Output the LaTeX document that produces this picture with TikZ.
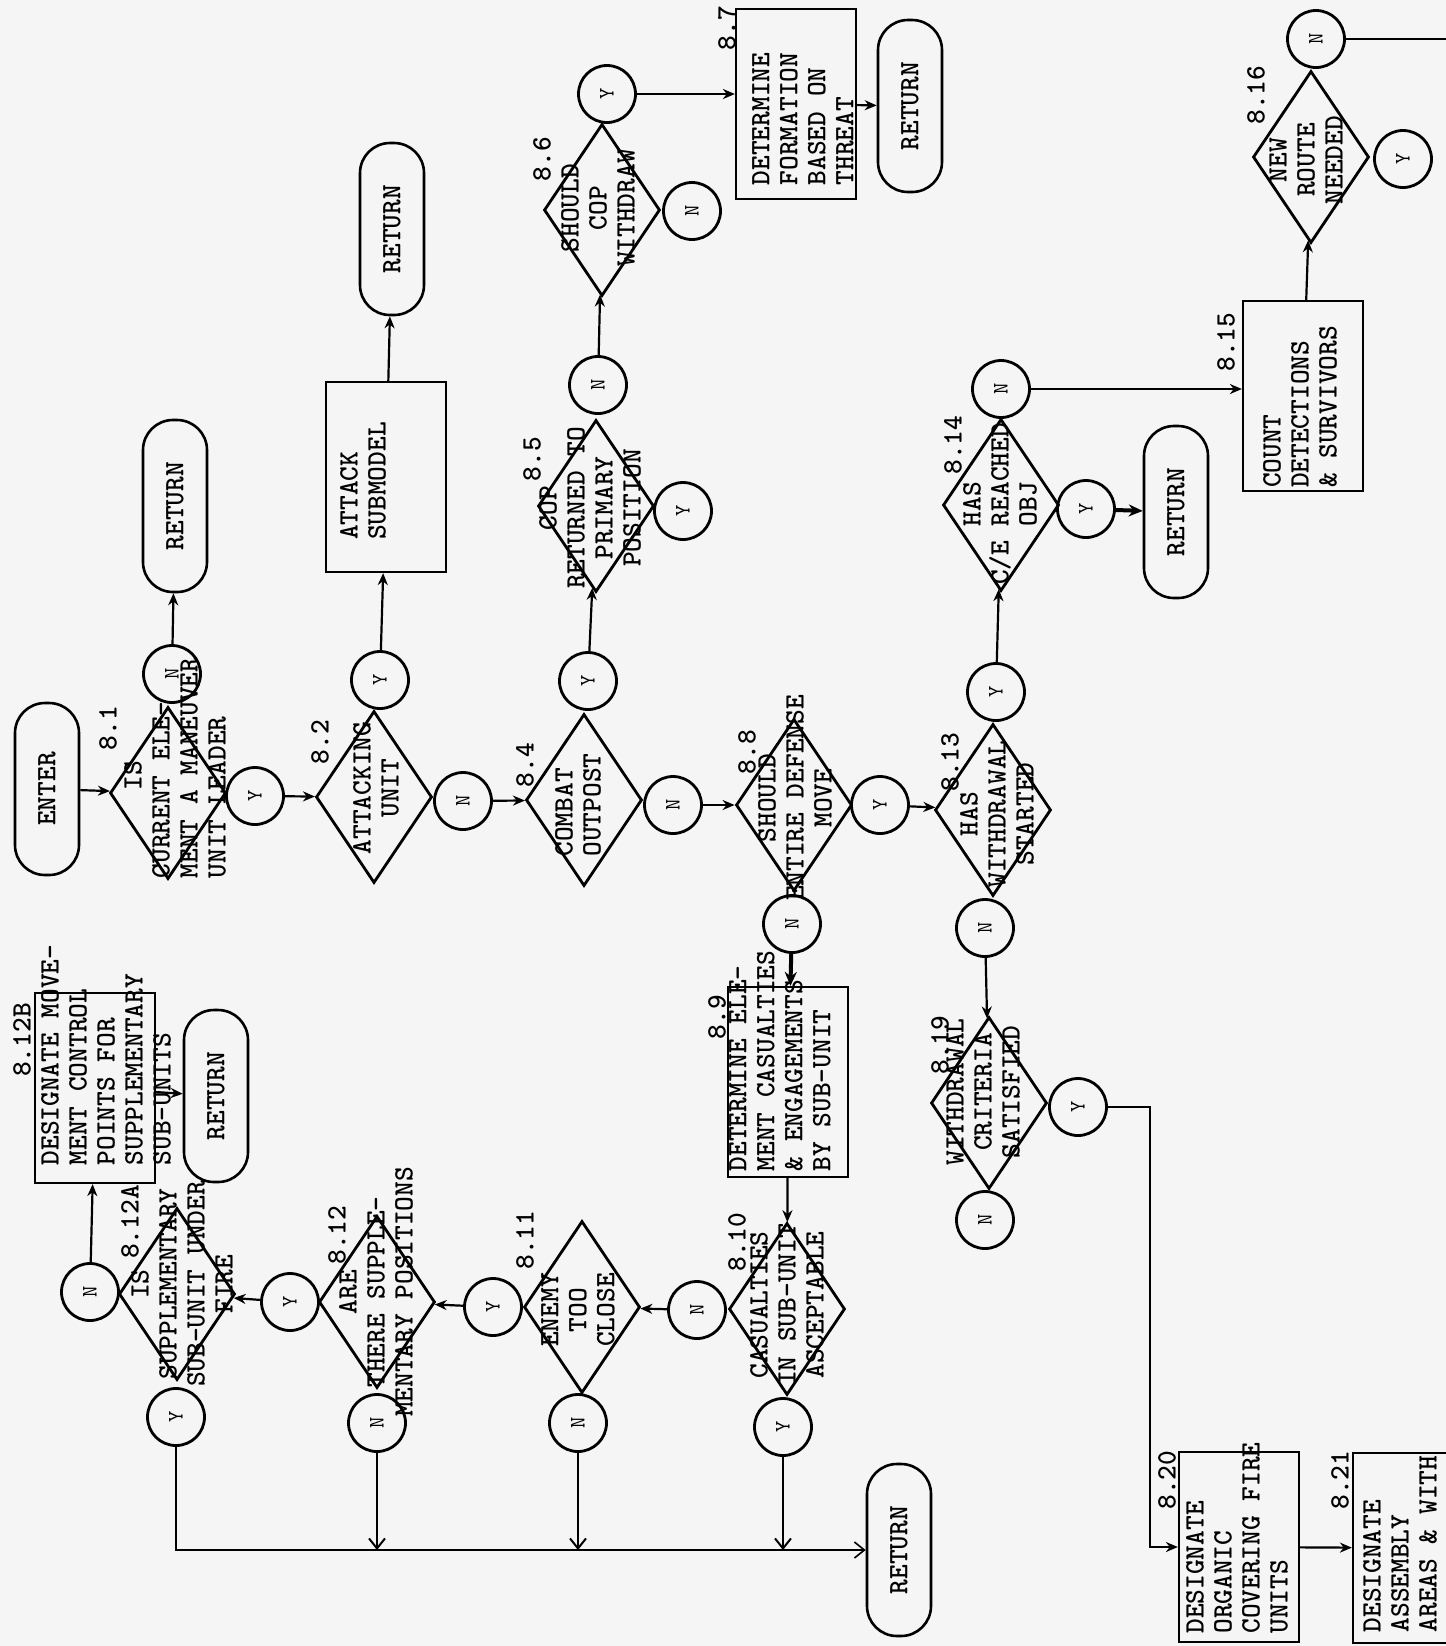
\documentclass[tikz,border=0pt]{standalone}
\usepackage{tikz}
\usetikzlibrary{shapes.geometric,arrows.meta}

\begin{document}
\begin{tikzpicture}[x=0.5pt,y=-0.5pt,
    every node/.style={font=\fontsize{14}{14}\selectfont\ttfamily\bfseries},
    dia/.style={diamond,draw,line width=1.4pt,inner sep=0pt,minimum width=58pt,minimum height=86pt},
    yn/.style={circle,draw,line width=1.4pt,inner sep=0pt,minimum size=28.5pt,rotate=90,font=\fontsize{11}{11}\selectfont\ttfamily},
    term/.style={rectangle,rounded corners=15pt,draw,line width=1.3pt,minimum width=86pt,minimum height=32pt,rotate=90},
    box/.style={rectangle,draw,line width=1.1pt,minimum width=60pt,minimum height=95pt},
    txt/.style={rotate=90,align=center,inner sep=0pt},
    ltxt/.style={rotate=90,align=left,inner sep=0pt},
    num/.style={rotate=90,inner sep=0pt},
    flow/.style={line width=1.1pt,-{Stealth[length=6pt,width=5pt]}},
    heavy/.style={line width=2pt,-{Stealth[length=7pt,width=6pt]}},
    feed/.style={line width=0.8pt,-{Straight Barb[length=5pt,width=8pt]}},
    drop/.style={line width=1pt,-{Straight Barb[length=5pt,width=8pt]}}
  ]

  \useasboundingbox (0,0) rectangle (1446,1646);
  \clip (0,0) rectangle (1446,1646);
  \fill[black!4] (0,0) rectangle (1446,1646);

  % Terminals
  \foreach \n/\x/\y/\s in {enter/47/789/ENTER, ret1/175/506/RETURN, ret2/392/229/RETURN,
      ret3/910/106/RETURN, ret4/1176/512/RETURN, ret5/216/1096/RETURN, ret6/899/1550/RETURN}
    \node[term] (\n) at (\x,\y) {\s};

  % Decisions
  \foreach \n/\x/\y in {d81/168/793, d82/374/797, d84/584/800, d85/596/506, d86/602/210,
      d88/794/805, d813/993/810, d814/1001/505, d816/1311/157, d819/989/1103,
      d810/787/1309, d811/582/1307, d812/377/1302, d812a/177/1294}
    \node[dia] (\n) at (\x,\y) {};

  % Process boxes
  \foreach \n/\x/\y in {batt/386/477, b87/796/104, b89/788/1082, b812b/95/1088,
      b815/1303/396, b820/1239/1547, b821/1413/1548}
    \node[box] (\n) at (\x,\y) {};

  % Yes / no circles
  \foreach \n/\x/\y/\a in {n81/172/674/N, y81/255/796/Y, y82/380/680/Y, n82/463/801/N,
      y84/588/681/Y, n84/673/805/N, n85/598/385/N, y85/683/511/Y, y86/607/94/Y,
      n86/692/211/N, y88/880/805/Y, n88/792/924/N, y813/996/692/Y, n813/985/928/N,
      n814/1001/389/N, y814/1086/509/Y, n816/1316/39/N, y816/1403/159/Y,
      y819/1078/1107/Y, n819/985/1220/N, n810/697/1310/N, y810/783/1427/Y,
      n811/578/1423/N, y811/493/1307/Y, y812/290/1302/Y, n812/377/1423/N,
      n812a/90/1292/N, y812a/176/1417/Y}
    \node[yn] (\n) at (\x,\y) {\a};

  % Step numbers
  \foreach \n/\x/\y/\s in {l81/108/728/8.1, l82/320/742/8.2, l84/525/765/8.4,
      l85/532/459/8.5, l86/542/159/8.6, l87/727/28/8.7, l88/747/752/8.8,
      l89/717/1017/8.9, l810/737/1242/8.10, l811/525/1240/8.11, l812/337/1235/8.12,
      l812a/130/1222/8.12A, l812b/22/1040/8.12B, l813/950/762/8.13, l814/953/445/8.14,
      l815/1226/342/8.15, l816/1256/95/8.16, l819/940/1045/8.19, l820/1167/1480/8.20,
      l821/1340/1480/8.21}
    \node[num] (\n) at (\x,\y) {\s};

  % Texts
  \node[ltxt] (t81) at (175,768) {\phantom{000000}IS\\CURRENT ELE-\\MENT A MANEUVER\\UNIT LEADER};
  \node[txt] (t82) at (376,788) {ATTACKING\\UNIT};
  \node[ltxt] (tatt) at (363,481) {ATTACK\\SUBMODEL};
  \node[ltxt] (t84) at (578,805) {COMBAT\\OUTPOST};
  \node[txt] (t85) at (590,508) {COP\\RETURNED TO\\PRIMARY\\POSITION};
  \node[txt] (t86) at (598,208) {SHOULD\\COP\\WITHDRAW};
  \node[ltxt] (t87) at (803,119) {DETERMINE\\FORMATION\\BASED ON\\THREAT};
  \node[txt] (t88) at (795,798) {SHOULD\\ENTIRE DEFENSE\\MOVE};
  \node[ltxt] (t89) at (780,1061) {DETERMINE ELE-\\MENT CASUALTIES\\\& ENGAGEMENTS\\BY SUB-UNIT};
  \node[txt] (t810) at (787,1305) {CASUALTIES\\IN SUB-UNIT\\ASCEPTABLE};
  \node[txt] (t811) at (578,1310) {ENEMY\\TOO\\CLOSE};
  \node[txt] (t812) at (376,1292) {ARE\\THERE SUPPLE-\\MENTARY POSITIONS};
  \node[txt] (t812a) at (182,1284) {IS\\SUPPLEMENTARY\\SUB-UNIT UNDER\\FIRE};
  \node[ltxt] (t812b) at (106,1055) {DESIGNATE MOVE-\\MENT CONTROL\\POINTS FOR\\SUPPLEMENTARY\\SUB-UNITS};
  \node[txt] (t813) at (997,814) {HAS\\WITHDRAWAL\\STARTED};
  \node[txt] (t814) at (1000,504) {HAS\\C/E REACHED\\OBJ};
  \node[ltxt] (t815) at (1300,407) {COUNT\\DETECTIONS\\\& SURVIVORS};
  \node[txt] (t816) at (1306,160) {NEW\\ROUTE\\NEEDED};
  \node[txt] (t819) at (983,1092) {WITHDRAWAL\\CRITERIA\\SATISFIED};
  \node[ltxt] (t820) at (1237,1538) {DESIGNATE\\ORGANIC\\COVERING FIRE\\UNITS};
  \node[ltxt] (t821) at (1400,1544) {DESIGNATE\\ASSEMBLY\\AREAS \& WITH};

  \coordinate (c819) at (1150,1547);
  \coordinate (edge816) at (1446,39);

  % Connectors
  \draw[flow] (enter) -- (d81);
  \draw[flow] (n81) -- (ret1);
  \draw[flow] (y81) -- (d82);
  \draw[flow] (y82) -- (batt);
  \draw[flow] (batt) -- (ret2);
  \draw[flow] (n82) -- (d84);
  \draw[flow] (y84) -- (d85);
  \draw[flow] (n85) -- (d86);
  \draw[flow] (y86) -- (y86 -| b87.west);
  \draw[flow] (b87) -- (ret3);
  \draw[flow] (n84) -- (d88);
  \draw[flow] (y88) -- (d813);
  \draw[heavy] (n88) -- (b89);
  \draw[flow] (b89) -- (d810);
  \draw[flow] (n810) -- (d811);
  \draw[flow] (y811) -- (d812);
  \draw[flow] (y812) -- (d812a);
  \draw[flow] (n812a) -- (b812b);
  \draw[flow] (b812b) -- (ret5);
  \draw[feed] (y812a) |- (ret6);
  \foreach \n in {n812,n811,y810}
    \draw[drop] (\n) -- (\n |- ret6);
  \draw[flow] (y813) -- (d814);
  \draw[heavy] (y814) -- (ret4);
  \draw[flow] (n814) -- (n814 -| b815.west);
  \draw[flow] (b815) -- (d816);
  \draw[line width=1.1pt] (n816) -- (edge816);
  \draw[flow] (n813) -- (d819);
  \draw[flow] (y819) -| (c819) -- (b820);
  \draw[flow] (b820) -- (b821);

\end{tikzpicture}
\end{document}
